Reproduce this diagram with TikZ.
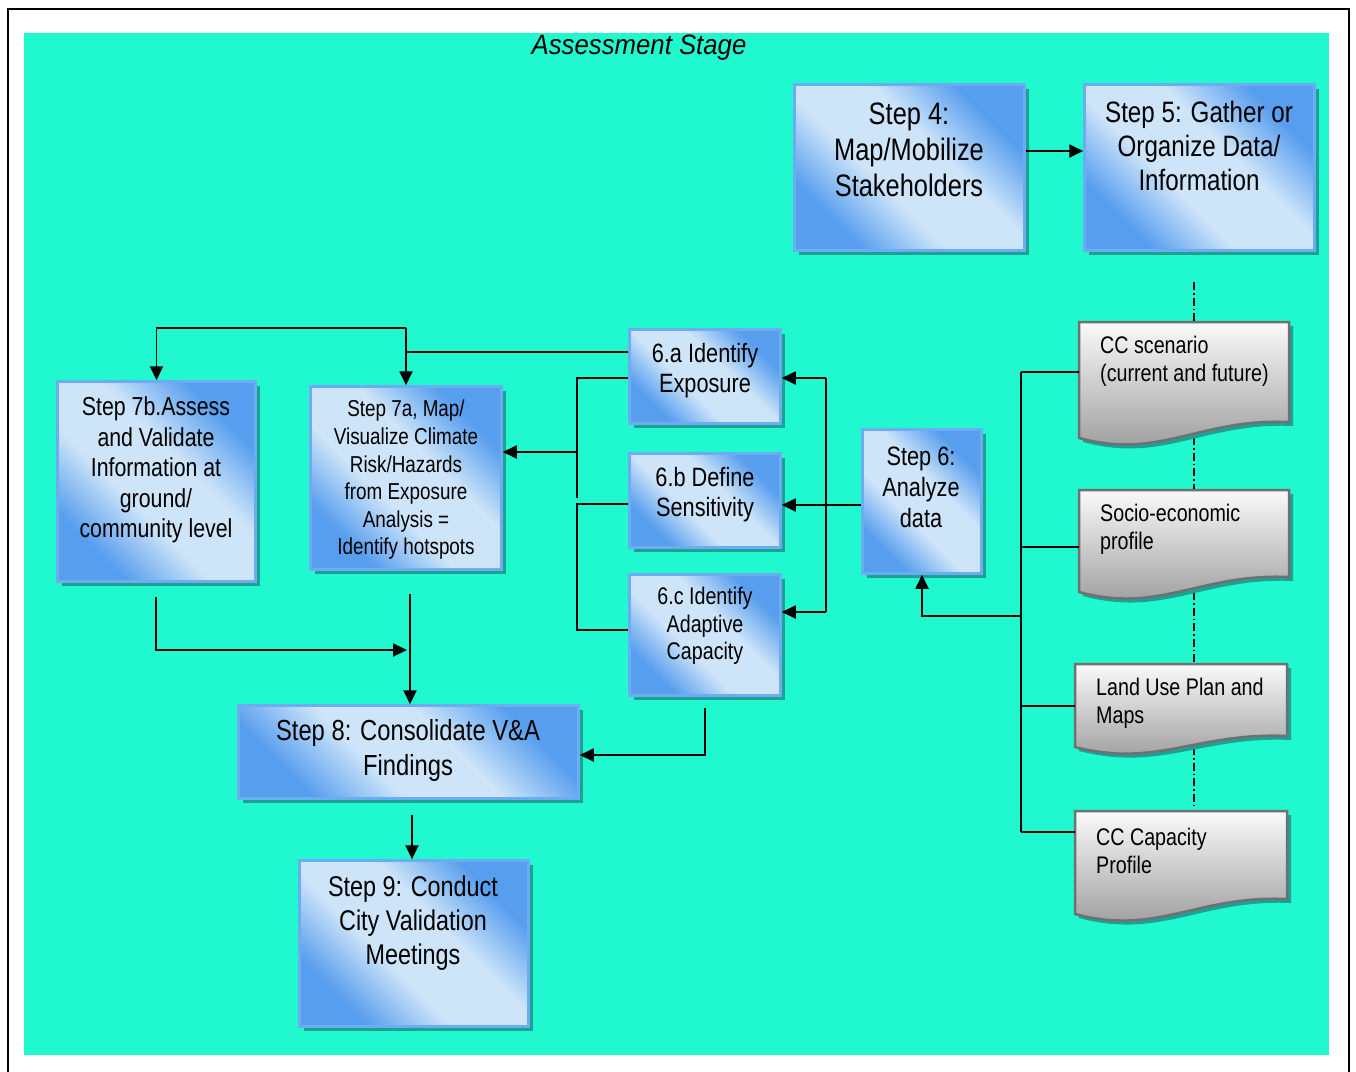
\documentclass[tikz,border=0pt]{standalone}
\usepackage{fontspec}
\setmainfont{Liberation Sans}
\newfontfamily\narrowfont[FakeStretch=0.82]{Liberation Sans}
\newfontfamily\titlefont[FakeStretch=0.92]{Liberation Sans}
\usetikzlibrary{arrows.meta,shadows}
\definecolor{bgc}{RGB}{32,249,208}
\definecolor{boxblue}{RGB}{88,158,238}
\definecolor{boxlight}{RGB}{206,229,249}
\definecolor{boxedge}{RGB}{108,172,240}
\definecolor{shadowc}{RGB}{30,160,148}
\definecolor{docedge}{RGB}{112,112,112}
\definecolor{doctop}{RGB}{250,250,250}
\definecolor{docbot}{RGB}{150,150,150}
\pgfdeclareverticalshading{boxshade}{100bp}{color(0bp)=(boxblue); color(27bp)=(boxblue); color(42bp)=(boxlight); color(58bp)=(boxlight); color(73bp)=(boxblue); color(100bp)=(boxblue)}
\begin{document}
\begin{tikzpicture}[x=1pt,y=-1pt,
  bluebox/.style={draw=boxedge, line width=2.5pt, shading=boxshade, shading angle=-45, inner sep=0pt,
    drop shadow={shadow xshift=4pt, shadow yshift=-4pt, opacity=1, fill=shadowc}},
  docbox/.style={draw=docedge, line width=2.5pt, top color=doctop, bottom color=docbot,
    drop shadow={shadow xshift=4pt, shadow yshift=-4pt, opacity=1, fill=shadowc}},
  ghost/.style={inner sep=0pt, draw=none, fill=none},
  lbl/.style={align=center, inner sep=0pt, text=black},
  doclbl/.style={align=left, inner sep=0pt, anchor=west, text=black, font={\narrowfont\fontsize{24}{28}\selectfont}},
  ln/.style={line width=1.8pt},
  arr/.style={line width=1.8pt, -{Triangle[length=14pt,width=13pt]}},
  dashdot/.style={line width=1.3pt, dash pattern=on 8pt off 3pt on 1.5pt off 3pt}
]
\useasboundingbox (0,0) rectangle (1356,1071);
% background and frame
\fill[bgc] (24,33) rectangle (1329,1055);
\draw[line width=2pt] (8,1080) -- (8,9) -- (1349,9) -- (1349,1080);
\node[lbl, font={\titlefont\itshape\fontsize{28}{30}\selectfont}] (title) at (639,48) {Assessment Stage};

% dash-dot line behind documents
\coordinate (ddtop) at (1194,282);
\coordinate (ddbot) at (1194,806);
\draw[dashdot] (ddtop) -- (ddbot);

% blue boxes
\node[bluebox, minimum width=230, minimum height=166] (s4) at (909.5,167.5) {};
\node[bluebox, minimum width=230, minimum height=166] (s5) at (1199.5,167.5) {};
\node[bluebox, minimum width=151, minimum height=94] (s6a) at (705,376.5) {};
\node[bluebox, minimum width=151, minimum height=94] (s6b) at (705,500.5) {};
\node[bluebox, minimum width=151, minimum height=121] (s6c) at (705,635) {};
\node[bluebox, minimum width=119, minimum height=144] (s6) at (922,501.5) {};
\node[bluebox, minimum width=191, minimum height=183] (s7a) at (406,478) {};
\node[bluebox, minimum width=198, minimum height=200] (s7b) at (156.5,481.5) {};
\node[bluebox, minimum width=340, minimum height=93] (s8) at (408.5,752) {};
\node[bluebox, minimum width=229, minimum height=166] (s9) at (414,943.5) {};

% box texts
\node[lbl, font={\narrowfont\fontsize{31}{36}\selectfont}] (s4t) at (909,150) {Step 4:\\Map/Mobilize\\Stakeholders};
\node[lbl, font={\narrowfont\fontsize{29.5}{34}\selectfont}] (s5t) at (1199,146) {Step 5: Gather or\\Organize Data/\\Information};
\node[lbl, font={\narrowfont\fontsize{26.5}{30}\selectfont}] (s6at) at (705,371) {6.a Identify\\Exposure};
\node[lbl, font={\narrowfont\fontsize{26.5}{30}\selectfont}] (s6bt) at (705,495) {6.b Define\\Sensitivity};
\node[lbl, font={\narrowfont\fontsize{24}{27.5}\selectfont}] (s6ct) at (705,626) {6.c Identify\\Adaptive\\Capacity};
\node[lbl, font={\narrowfont\fontsize{26.5}{31}\selectfont}] (s6t) at (921,487) {Step 6:\\Analyze\\data};
\node[lbl, font={\narrowfont\fontsize{23}{27.6}\selectfont}] (s7at) at (406,480) {Step 7a, Map/\\Visualize Climate\\Risk/Hazards\\from Exposure\\Analysis =\\Identify hotspots};
\node[lbl, font={\narrowfont\fontsize{26}{30.5}\selectfont}] (s7bt) at (156,470) {Step 7b.Assess\\and Validate\\Information at\\ground/\\community level};
\node[lbl, font={\narrowfont\fontsize{29}{35}\selectfont}] (s8t) at (408,750) {Step 8: Consolidate V\&A\\Findings};
\node[lbl, font={\narrowfont\fontsize{28.5}{34}\selectfont}] (s9t) at (413,923) {Step 9: Conduct\\City Validation\\Meetings};

% documents
\draw[docbox] (1079,322) -- (1289,322) -- (1289,422) .. controls (1200,418) and (1160,460) .. (1079,438) -- cycle;
\draw[docbox] (1079,490) -- (1289,490) -- (1289,577) .. controls (1200,573) and (1160,614) .. (1079,592) -- cycle;
\draw[docbox] (1075,664) -- (1287,664) -- (1287,736) .. controls (1197,732) and (1157,768) .. (1075,747) -- cycle;
\draw[docbox] (1075,811) -- (1287,811) -- (1287,899) .. controls (1197,895) and (1157,936) .. (1075,914) -- cycle;
\node[ghost, minimum width=210, minimum height=116] (d1) at (1184,380) {};
\node[ghost, minimum width=210, minimum height=102] (d2) at (1184,541) {};
\node[ghost, minimum width=212, minimum height=83] (d3) at (1181,705.5) {};
\node[ghost, minimum width=212, minimum height=103] (d4) at (1181,862.5) {};
\node[doclbl] (d1t) at (1100,361) {CC scenario\\(current and future)};
\node[doclbl] (d2t) at (1100,529) {Socio-economic\\profile};
\node[doclbl] (d3t) at (1096,703) {Land Use Plan and\\Maps};
\node[doclbl] (d4t) at (1096,851) {CC Capacity\\Profile};

% connectors
\draw[arr] (s4.east |- 0,151) -- (s5.west |- 0,151);

\coordinate (b1) at (1021,372);
\coordinate (b2) at (1021,547);
\coordinate (b3) at (1021,706);
\coordinate (b4) at (1021,832);
\coordinate (bs) at (1021,616);
\draw[ln] (b1) -- (b4);
\draw[ln] (b1) -- (d1.west |- b1);
\draw[ln] (b2) -- (d2.west |- b2);
\draw[ln] (b3) -- (d3.west |- b3);
\draw[ln] (b4) -- (d4.west |- b4);
\draw[arr] (bs) -| (s6.south);

\draw[arr] (s6.west |- 0,505) -- (s6b.east |- 0,505);
\coordinate (v1) at (826,378);
\coordinate (v2) at (826,612);
\draw[ln] (v1) -- (v2);
\draw[arr] (v1) -- (s6a.east |- v1);
\draw[arr] (v2) -- (s6c.east |- v2);

\coordinate (t1) at (406,328);
\draw[ln] (s6a.west |- 0,352) -- (t1 |- 0,352);
\draw[arr] (t1) -- (s7a.north);
\draw[arr] (t1) -| (s7b.north);

\coordinate (k1) at (577,378);
\coordinate (k2) at (577,498);
\coordinate (k3) at (577,504);
\coordinate (k4) at (577,630);
\draw[ln] (s6a.west |- k1) -- (k1) -- (k2);
\draw[arr] (k1 |- 0,452) -- (s7a.east |- 0,452);
\draw[ln] (s6b.west |- k3) -- (k3) -- (k4) -- (s6c.west |- k4);

\coordinate (m1) at (156,597);
\draw[arr] (m1) |- (407,650);
\draw[arr] (410,594) -- (s8.north -| 410,0);
\draw[arr] (s6c.south |- 0,708) |- (s8.east |- 0,755);
\draw[arr] (412,815) -- (s9.north -| 412,0);
\end{tikzpicture}
\end{document}
